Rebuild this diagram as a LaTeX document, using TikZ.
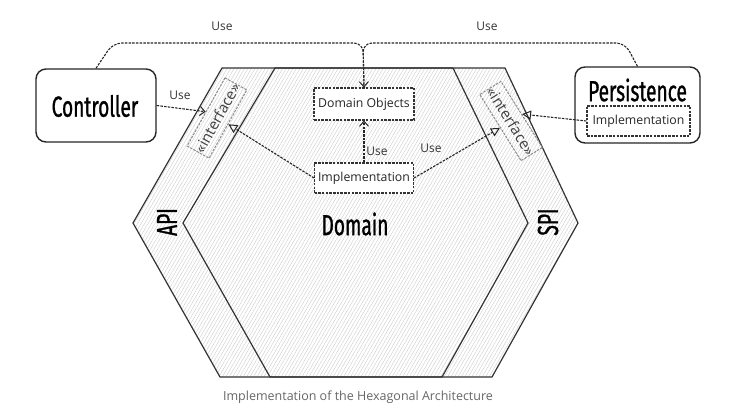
\documentclass[tikz,border=0pt]{standalone}
\usepackage{fontspec}
\setmainfont{Open Sans}
\newfontfamily\condfont[FakeStretch=0.66,FakeBold=1]{Fira Sans}
\usetikzlibrary{arrows.meta,patterns.meta}
\definecolor{txtgray}{HTML}{333333}
\definecolor{capgray}{HTML}{666666}
\tikzset{
  bigbox/.style={draw=black!85, line width=1.4pt, rounded corners=10pt},
  bigtext/.style={font=\condfont\fontsize{29}{30}\selectfont, text=black, inner sep=0pt},
  dbox/.style={draw=black!80, line width=1.1pt, dash pattern=on 2.5pt off 1.2pt, font=\fontsize{12.3}{13}\selectfont, inner sep=0pt, minimum height=30pt, text=black!85},
  ifbox/.style={draw=black!45, line width=1pt, dash pattern=on 2.5pt off 1.2pt, font=\fontsize{15}{16}\selectfont, inner sep=0pt, minimum width=78pt, minimum height=25pt, text=black!75},
  uselbl/.style={font=\fontsize{12}{13}\selectfont, text=txtgray, inner sep=1pt},
  useline/.style={draw=black!85, line width=1.1pt, dash pattern=on 2.5pt off 1.2pt},
  vtip/.style={-{Straight Barb[length=5pt,width=9pt,line width=1pt]}},
  ttip/.style={-{Triangle[open,length=9pt,width=9pt,line width=1pt]}},
  hexline/.style={draw=black!80, line width=1.2pt, line join=round},
}
\begin{document}
\begin{tikzpicture}[x=1pt,y=-1pt]
\useasboundingbox (0,0) rectangle (741,414);
% hexagon
\path[pattern={Lines[angle=60,distance=3pt,line width=0.4pt]}, pattern color=black!20]
  (222,68) -- (505,68) -- (578,223) -- (492,377) -- (220,377) -- (133,223) -- cycle;
\draw[hexline] (222,68) -- (505,68) -- (578,223) -- (492,377) -- (220,377) -- (133,223) -- cycle;
\draw[hexline] (275,68) -- (453,68) -- (528,223) -- (442,377) -- (270,377) -- (183,223) -- cycle;
% texts in hexagon
\node[bigtext] (dom) at (355,224) {Domain};
\node[bigtext, rotate=90] (api) at (167,222) {API};
\node[bigtext, rotate=90] (spi) at (548,222) {SPI};
% domain boxes
\node[dbox, fill=white, minimum width=100pt, minimum height=32pt] (dobj) at (364,104) {Domain Objects};
\node[dbox, fill=white, minimum width=99pt] (impl) at (364,178) {Implementation};
% interfaces
\node[ifbox, rotate=61] (ifL) at (217,118) {«interface»};
\node[ifbox, rotate=-58] (ifR) at (511,121) {«interface»};
% controller
\node[bigbox, fill=white, minimum width=120pt, minimum height=73pt] (ctrl) at (96,105.5) {};
\node[bigtext] (ctrlt) at (95,106) {Controller};
% persistence
\node[bigbox, fill=white, minimum width=125pt, minimum height=76pt] (pers) at (637.5,105) {};
\node[bigtext] (perst) at (637.5,90) {Persistence};
\node[dbox, minimum width=103pt] (pimpl) at (638.5,121) {Implementation};
% connectors
\draw[useline, vtip] (ctrl.east) -- (ifL.north);
\node[uselbl] (u1) at (180,95) {Use};
\draw[useline, rounded corners=9pt] (ctrl.north) -- (113,43) -- (363,43) -- (dobj.north);
\draw[useline, rounded corners=9pt, vtip] (pers.north) -- (625,43) -- (363,43) -- (dobj.north);
\node[uselbl] (u2) at (222,26) {Use};
\node[uselbl] (u3) at (487,26) {Use};
\draw[useline, vtip] (impl.north) -- (dobj.south);
\node[uselbl] (u4) at (377,151) {Use};
\draw[useline, ttip] (impl.west) -- (ifL.south);
\draw[useline, ttip] (impl.east) -- (ifR.south);
\node[uselbl] (u5) at (431,148) {Use};
\draw[useline, ttip] (pimpl.west) -- (ifR.north);
% caption
\node[font=\fontsize{12.5}{14}\selectfont, text=capgray] (cap) at (358,397) {Implementation of the Hexagonal Architecture};
\end{tikzpicture}
\end{document}
